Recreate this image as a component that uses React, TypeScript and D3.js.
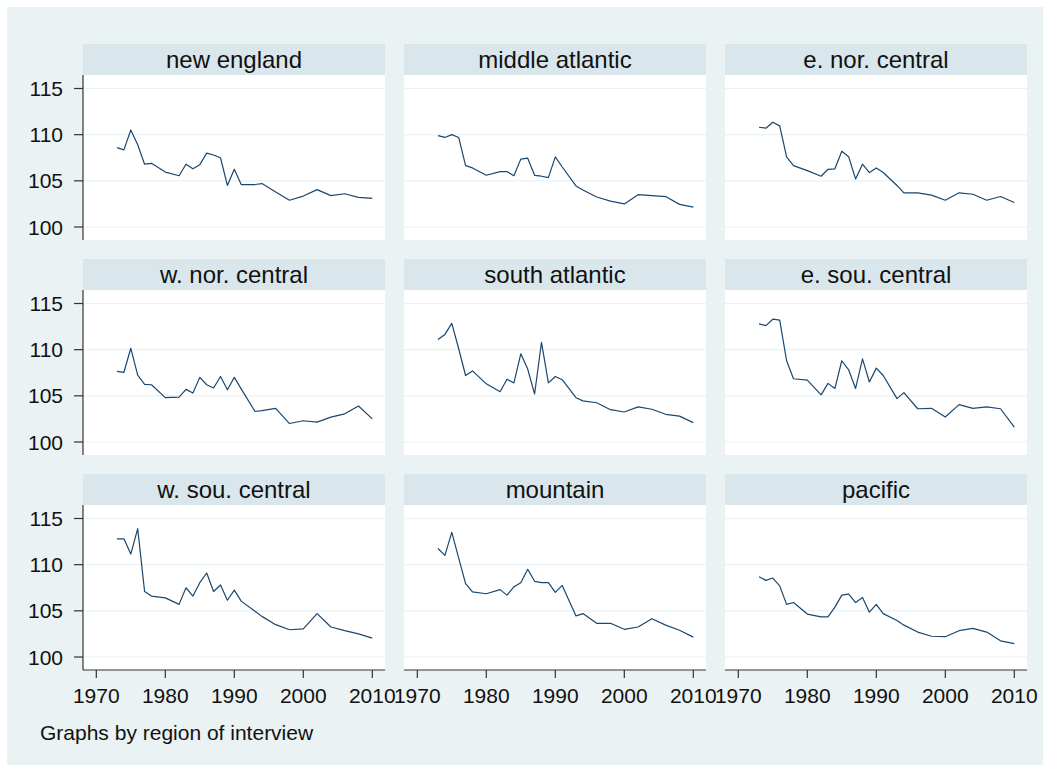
import * as d3 from "d3";

// survey years (same for every region)
const years = [
  1973, 1974, 1975, 1976, 1977, 1978, 1980, 1982, 1983, 1984, 1985, 1986, 1987, 1988,
  1989, 1990, 1991, 1993, 1994, 1996, 1998, 2000, 2002, 2004, 2006, 2008, 2010,
];

const newEngland = [
  108.6, 108.35, 110.5, 108.9, 106.8, 106.9, 105.95, 105.55, 106.8, 106.3, 106.75, 108.0, 107.8, 107.5,
  104.5, 106.25, 104.6, 104.6, 104.7, 103.8, 102.9, 103.35, 104.05, 103.4, 103.6, 103.2, 103.1,
];
const middleAtlantic = [
  109.9, 109.7, 110.0, 109.7, 106.65, 106.4, 105.6, 106.0, 106.0, 105.55, 107.35, 107.45, 105.6, 105.5,
  105.35, 107.6, 106.5, 104.45, 104.0, 103.25, 102.8, 102.5, 103.5, 103.4, 103.3, 102.45, 102.15,
];
const eNorCentral = [
  110.8, 110.7, 111.35, 110.95, 107.6, 106.65, 106.1, 105.5, 106.25, 106.3, 108.2, 107.6, 105.2, 106.8,
  105.9, 106.4, 105.9, 104.5, 103.7, 103.7, 103.45, 102.9, 103.7, 103.55, 102.9, 103.3, 102.65,
];
const wNorCentral = [
  107.65, 107.55, 110.15, 107.25, 106.25, 106.2, 104.8, 104.85, 105.7, 105.3, 107.0, 106.2, 105.85, 107.1,
  105.65, 107.0, 105.75, 103.3, 103.4, 103.65, 102.0, 102.3, 102.15, 102.7, 103.05, 103.9, 102.5,
];
const southAtlantic = [
  111.1, 111.65, 112.85, 110.1, 107.2, 107.7, 106.3, 105.45, 106.8, 106.4, 109.55, 107.9, 105.2, 110.8,
  106.4, 107.1, 106.75, 104.8, 104.45, 104.25, 103.5, 103.25, 103.8, 103.55, 103.0, 102.8, 102.1,
];
const eSouCentral = [
  112.8, 112.6, 113.3, 113.2, 108.8, 106.85, 106.7, 105.1, 106.35, 105.8, 108.8, 107.8, 105.8, 109.0,
  106.5, 108.0, 107.2, 104.7, 105.35, 103.6, 103.65, 102.7, 104.05, 103.65, 103.8, 103.6, 101.6,
];
const wSouCentral = [
  112.8, 112.8, 111.15, 113.9, 107.1, 106.6, 106.4, 105.7, 107.5, 106.6, 108.05, 109.1, 107.1, 107.8,
  106.15, 107.25, 106.05, 104.95, 104.4, 103.5, 102.95, 103.05, 104.7, 103.25, 102.85, 102.5, 102.05,
];
const mountain = [
  111.75, 111.0, 113.5, 110.7, 107.95, 107.05, 106.85, 107.3, 106.7, 107.6, 108.05, 109.5, 108.2, 108.05,
  108.05, 107.0, 107.75, 104.45, 104.7, 103.65, 103.65, 103.0, 103.25, 104.15, 103.45, 102.9, 102.15,
];
const pacific = [
  108.7, 108.3, 108.55, 107.7, 105.7, 105.9, 104.65, 104.35, 104.35, 105.4, 106.7, 106.8, 105.9, 106.45,
  104.85, 105.7, 104.7, 103.95, 103.45, 102.7, 102.25, 102.2, 102.85, 103.1, 102.7, 101.75, 101.45,
];

const regionNames = [
  "new england", "middle atlantic", "e. nor. central",
  "w. nor. central", "south atlantic", "e. sou. central",
  "w. sou. central", "mountain", "pacific",
];
const regionValues = [
  newEngland, middleAtlantic, eNorCentral,
  wNorCentral, southAtlantic, eSouCentral,
  wSouCentral, mountain, pacific,
];

const yTicks = [100, 105, 110, 115];
const xTicks = [1970, 1980, 1990, 2000, 2010];
const note = "Graphs by region of interview";

// layout
const width = 1050;
const height = 772;
const panelW = 302;
const plotH = 165;
const stripH = 31;
const colX = (c: number) => 83 + c * 321;
const rowY = (r: number) => 44 + r * 215;

const font = "'Liberation Sans', Arial, Helvetica, sans-serif";
const bg = "#EAF2F3";
const strip = "#D9E6EB";
const lineColor = "#1A476F";

const x = d3.scaleLinear().domain([1970, 2010]).range([13.3, 289.3]);
const y = d3.scaleLinear().domain([100, 115]).range([152, 13.5]);

export default function App() {
  const line = d3
    .line<number>()
    .x((_, i) => x(years[i]))
    .y((v) => y(v));

  return (
    <div style={{ position: "absolute", left: 0, top: 0 }}>
      <svg width={width} height={height} style={{ display: "block", fontFamily: font }}>
        <rect x={0} y={0} width={width} height={height} fill="#fff" />
        <rect x={7} y={7} width={width - 14} height={height - 14} fill={bg} />

        {regionNames.map((name, k) => {
          const c = k % 3;
          const r = Math.floor(k / 3);
          const x0 = colX(c);
          const top = rowY(r);
          const plotTop = top + stripH;
          return (
            <g key={name}>
              {/* strip */}
              <rect x={x0} y={top} width={panelW} height={stripH} fill={strip} />
              <text
                x={x0 + panelW / 2}
                y={top + 23.5}
                textAnchor="middle"
                fontSize={24}
                fill="#111"
              >
                {name}
              </text>
              {/* plot region */}
              <g transform={`translate(${x0},${plotTop})`}>
                <rect x={0} y={0} width={panelW} height={plotH} fill="#fff" />
                {yTicks.map((t) => (
                  <line
                    key={t}
                    x1={0}
                    x2={panelW}
                    y1={y(t)}
                    y2={y(t)}
                    stroke={bg}
                    strokeWidth={1.2}
                  />
                ))}
                <path
                  d={line(regionValues[k]) ?? ""}
                  fill="none"
                  stroke={lineColor}
                  strokeWidth={1.2}
                  strokeLinejoin="round"
                />
                {/* y axis on left column */}
                {c === 0 && (
                  <g>
                    <line x1={0} x2={0} y1={0} y2={plotH} stroke="#333" strokeWidth={1.2} />
                    {yTicks.map((t) => (
                      <g key={t} transform={`translate(0,${y(t)})`}>
                        <line x1={-9} x2={0} stroke="#333" strokeWidth={1.2} />
                        <text x={-20} dy="0.36em" textAnchor="end" fontSize={21} fill="#111">
                          {t}
                        </text>
                      </g>
                    ))}
                  </g>
                )}
                {/* x axis on bottom row */}
                {r === 2 && (
                  <g transform={`translate(0,${plotH})`}>
                    <line x1={0} x2={panelW} stroke="#333" strokeWidth={1.2} />
                    {xTicks.map((t) => (
                      <g key={t} transform={`translate(${x(t)},0)`}>
                        <line y1={0} y2={8} stroke="#333" strokeWidth={1.2} />
                        <text y={33} textAnchor="middle" fontSize={21} fill="#111">
                          {t}
                        </text>
                      </g>
                    ))}
                  </g>
                )}
              </g>
            </g>
          );
        })}

        <text x={40} y={740} fontSize={21} fill="#111">
          {note}
        </text>
      </svg>
    </div>
  );
}
